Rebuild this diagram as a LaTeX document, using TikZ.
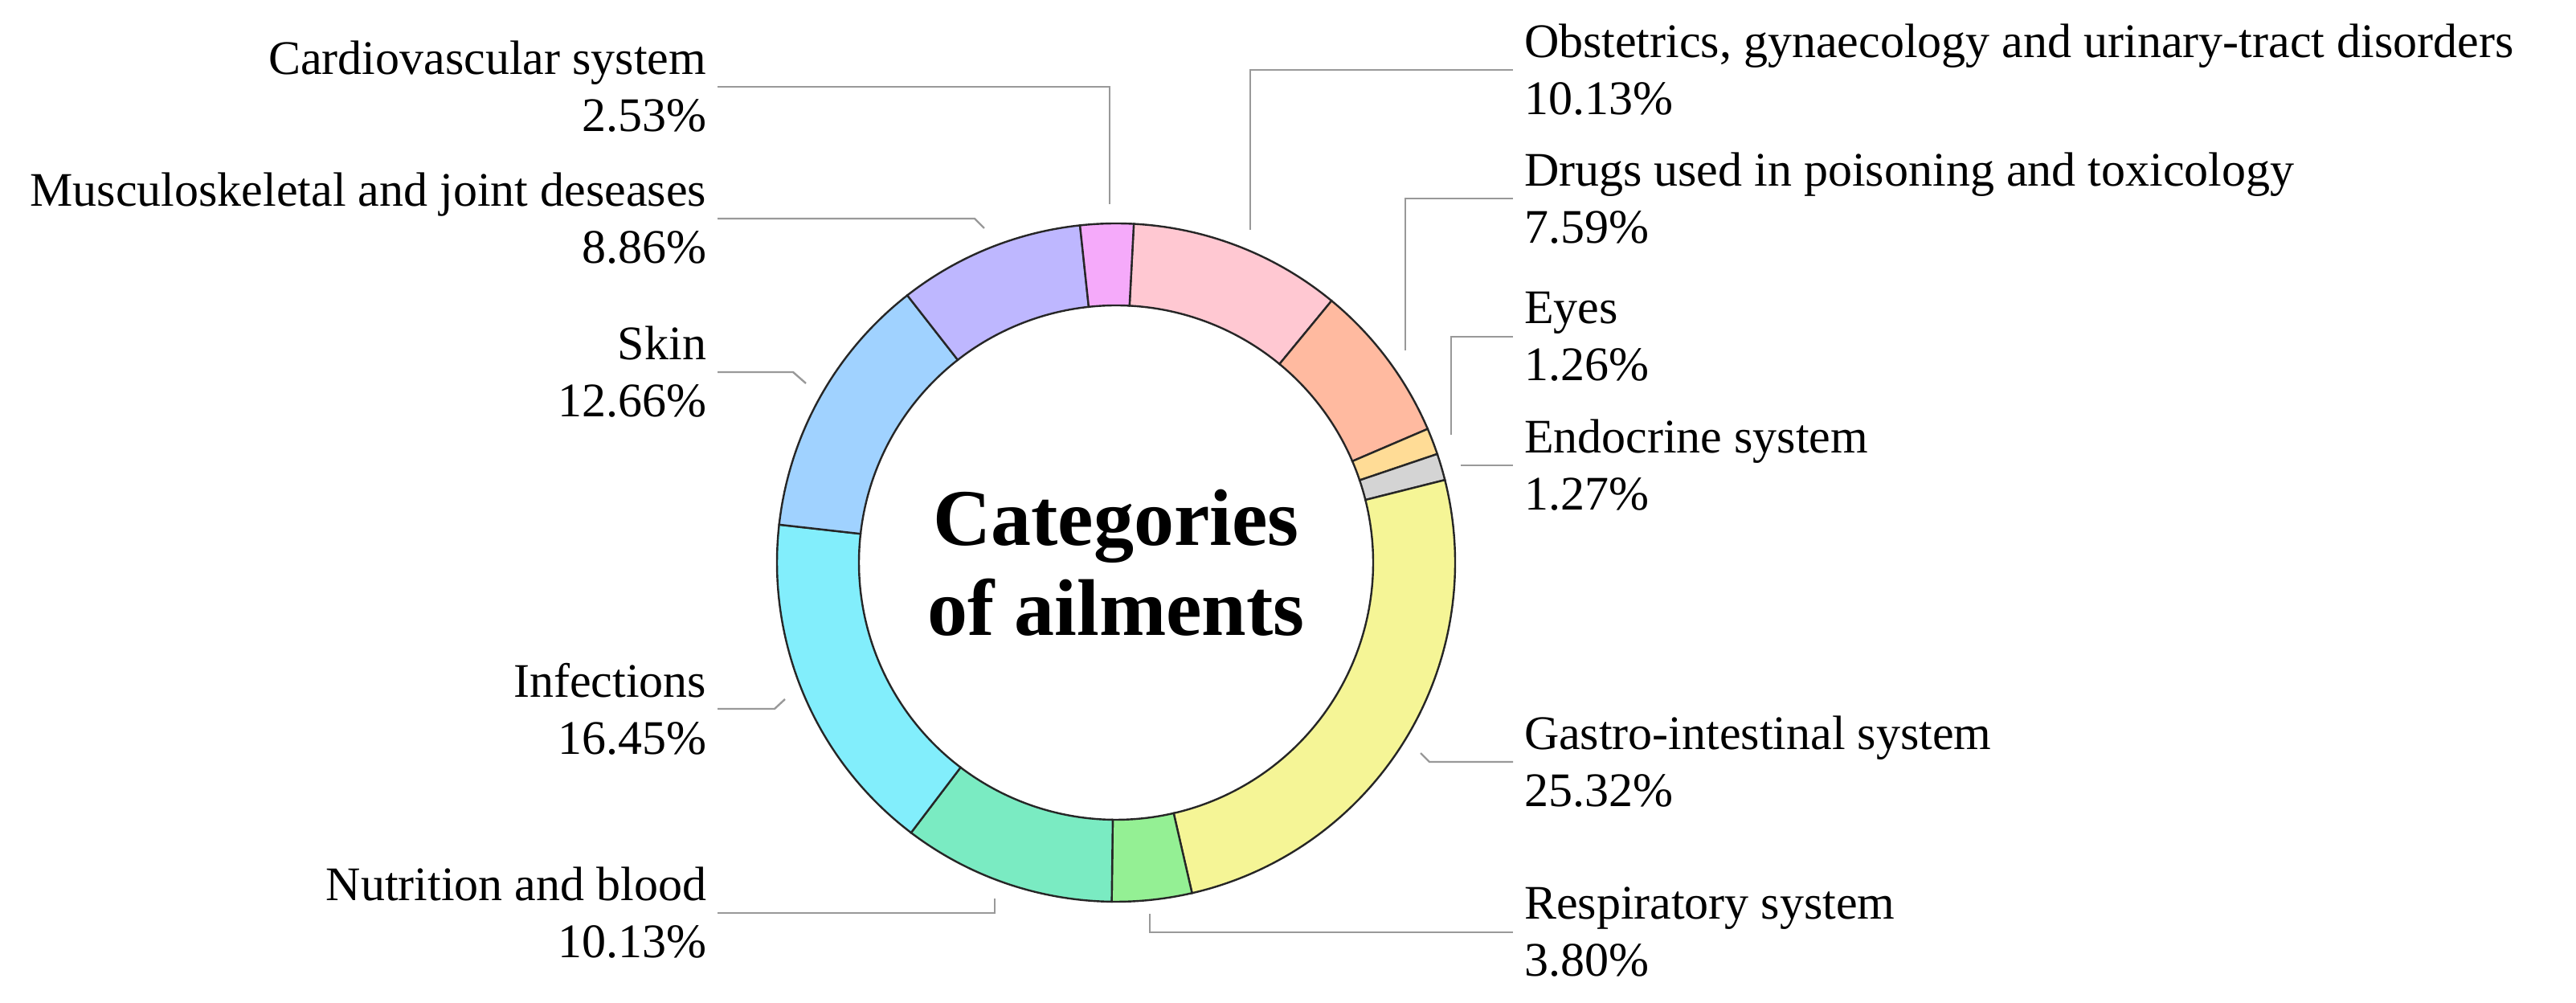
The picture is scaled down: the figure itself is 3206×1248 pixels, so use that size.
\documentclass[tikz,border=0pt]{standalone}
\usepackage{fontspec}
\setmainfont{Liberation Serif}
\usetikzlibrary{positioning}

\definecolor{cardioC}{HTML}{F5AAFA}
\definecolor{obstC}{HTML}{FFC8D2}
\definecolor{drugsC}{HTML}{FFBAA0}
\definecolor{eyesC}{HTML}{FFDC96}
\definecolor{endoC}{HTML}{D4D4D4}
\definecolor{gastroC}{HTML}{F5F596}
\definecolor{respC}{HTML}{94F094}
\definecolor{nutrC}{HTML}{7AEBC2}
\definecolor{infC}{HTML}{82EEFC}
\definecolor{skinC}{HTML}{A0D2FF}
\definecolor{muscC}{HTML}{BEB7FF}

\tikzset{
  lbl/.style={font=\fontsize{15}{17.75}\selectfont, inner sep=3.3pt},
  lbl left/.style={lbl, anchor=east, align=right},
  lbl right/.style={lbl, anchor=west, align=left},
  leader/.style={draw=black!40, line width=0.6pt},
  slice/.style={draw=black!85, line width=0.6pt}
}

\begin{document}
\begin{tikzpicture}[x=0.25pt,y=-0.25pt]
\useasboundingbox (0,0) rectangle (3206,1248);

% ring, clockwise from the top
\begin{scope}[shift={(1389,700)}, y={(0pt,0.25pt)}]
\def\s{87}
\foreach \v/\c in {10.13/obstC,7.59/drugsC,1.26/eyesC,1.27/endoC,25.32/gastroC,3.80/respC,10.13/nutrC,16.45/infC,12.66/skinC,8.86/muscC,2.53/cardioC}{ % value/colour
  \pgfmathsetmacro\e{\s-3.6*\v}
  \draw[slice, fill=\c] (\s:320) -- (\s:422) arc[start angle=\s, end angle=\e, radius=422]
    -- (\e:320) arc[start angle=\e, end angle=\s, radius=320] -- cycle;
  \global\let\s\e
}
\node[font=\fontsize{25}{28}\selectfont\bfseries, align=center] (title) at (0,0) {Categories\\of ailments};
\end{scope}

% labels on the left
\node[lbl left] (cardio) at (893,108) {Cardiovascular system\\2.53\%};
\node[lbl left] (musc) at (893,272) {Musculoskeletal and joint deseases\\8.86\%};
\node[lbl left] (skin) at (893,463) {Skin\\12.66\%};
\node[lbl left] (inf) at (893,882) {Infections\\16.45\%};
\node[lbl left] (nutr) at (893,1136) {Nutrition and blood\\10.13\%};

% labels on the right
\node[lbl right] (obst) at (1883,87) {Obstetrics, gynaecology and urinary-tract disorders\\10.13\%};
\node[lbl right] (drugs) at (1883,247) {Drugs used in poisoning and toxicology\\7.59\%};
\node[lbl right] (eyes) at (1883,419) {Eyes\\1.26\%};
\node[lbl right] (endo) at (1883,579) {Endocrine system\\1.27\%};
\node[lbl right] (gastro) at (1883,948) {Gastro-intestinal system\\25.32\%};
\node[lbl right] (resp) at (1883,1160) {Respiratory system\\3.80\%};

% leader ends at the ring
\coordinate (cardio-r) at (1381,254);
\coordinate (musc-r) at (1225,284);
\coordinate (skin-r) at (1003,477);
\coordinate (inf-r) at (977,870);
\coordinate (nutr-r) at (1238,1118);
\coordinate (obst-r) at (1556,286);
\coordinate (drugs-r) at (1749,436);
\coordinate (eyes-r) at (1806,541);
\coordinate (endo-r) at (1818,579);
\coordinate (gastro-r) at (1768,937);
\coordinate (resp-r) at (1431,1137);

\draw[leader] (cardio.east) -| (cardio-r);
\draw[leader] (musc.east) -- (1213,272) -- (musc-r);
\draw[leader] (skin.east) -- (987,463) -- (skin-r);
\draw[leader] (inf.east) -- (964,882) -- (inf-r);
\draw[leader] (nutr.east) -| (nutr-r);
\draw[leader] (obst.west) -| (obst-r);
\draw[leader] (drugs.west) -| (drugs-r);
\draw[leader] (eyes.west) -| (eyes-r);
\draw[leader] (endo.west) -- (endo-r);
\draw[leader] (gastro.west) -- (1779,948) -- (gastro-r);
\draw[leader] (resp.west) -| (resp-r);
\end{tikzpicture}
\end{document}
